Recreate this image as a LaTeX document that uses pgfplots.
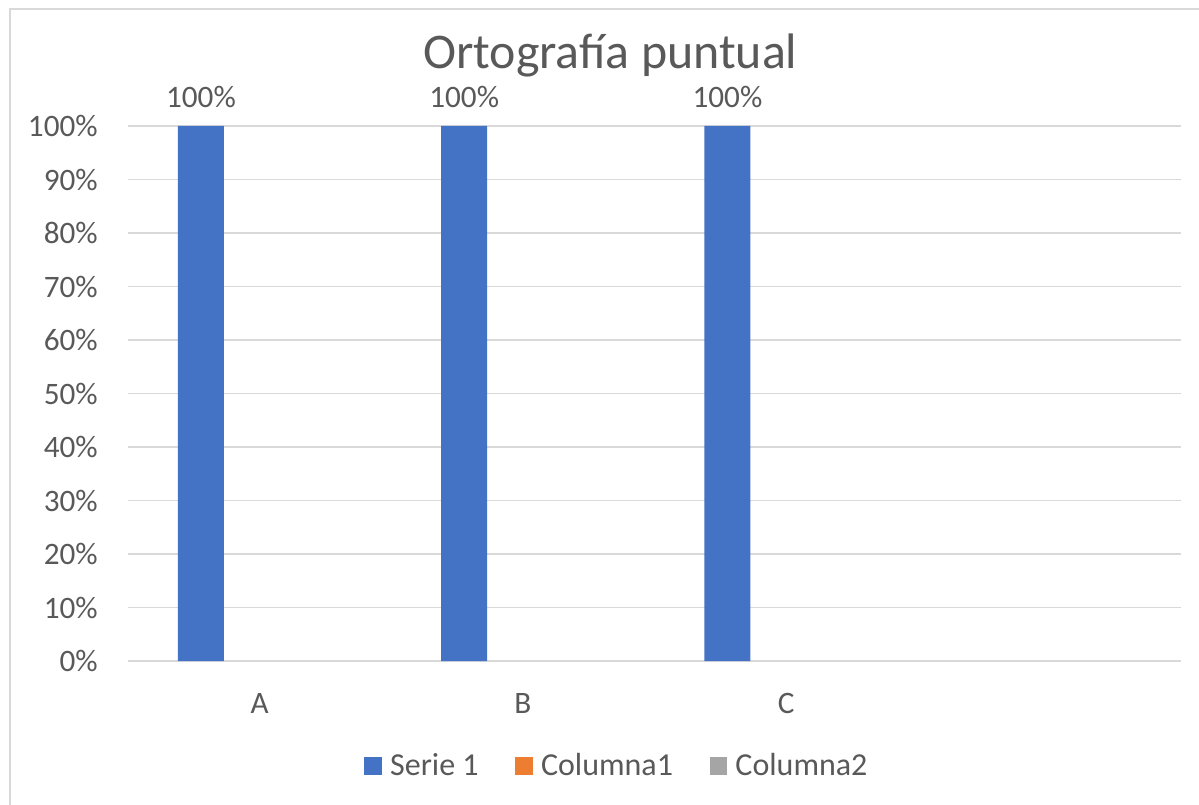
\documentclass[border=0pt]{standalone}
\usepackage{fontspec}
\setmainfont{Carlito}
\usepackage{pgfplots}
\pgfplotsset{compat=1.18}
\definecolor{s1}{HTML}{4472C4}
\definecolor{s2}{HTML}{ED7D31}
\definecolor{s3}{HTML}{A5A5A5}
\definecolor{txt}{HTML}{595959}
\definecolor{gridc}{HTML}{D9D9D9}
\begin{document}
\begin{tikzpicture}
\useasboundingbox (0,0) rectangle (899.25pt,603pt);
\fill[white] (0,0) rectangle (899.25pt,603pt);
\draw[gridc, line width=1.2pt] (7.5pt,-5pt) -- (7.5pt,596.25pt) -- (905pt,596.25pt);
\begin{axis}[
  at={(96pt,107.25pt)}, anchor=south west,
  scale only axis, width=789.75pt, height=401.25pt,
  xmin=-0.5, xmax=3.5, ymin=0, ymax=100,
  clip=false,
  axis line style={draw=none},
  ytick={0,10,...,100},
  xtick={0,1,2}, xticklabels={A,B,C},
  ymajorgrids, grid style={gridc, line width=1.1pt},
  major tick length=0pt, tick style={draw=none},
  /pgf/number format/assume math mode=true,
  ticklabel style={font=\fontsize{23.4}{28}\selectfont, text=txt},
  yticklabel={\pgfmathprintnumber{\tick}\%},
  yticklabel style={anchor=east, inner sep=0pt, xshift=-22.5pt},
  xticklabel style={anchor=base, inner sep=0pt, yshift=-39pt},
  title={Ortografía puntual},
  title style={at={(0.458,1)}, anchor=base, yshift=36.75pt, inner sep=0pt,
    font=\fontsize{37.4}{44}\selectfont, text=txt},
  legend columns=3,
  legend image code/.code={\fill[#1] (0pt,-6.6pt) rectangle (13.3pt,6.6pt);},
  legend style={at={(0.4634,-0.196)}, anchor=center, draw=none, fill=none,
    font=\fontsize{24}{28}\selectfont, text=txt,
    nodes={inner sep=0pt},
    /tikz/every odd column/.append style={column sep=6pt},
    /tikz/every even column/.append style={column sep=27.5pt}},
]
\addplot[ybar, bar width=0.175, bar shift=0pt, fill=s1, draw=none,
  nodes near coords={\pgfmathprintnumber{\pgfplotspointmeta}\%},
  every node near coord/.append style={anchor=base, yshift=14pt, inner sep=0pt,
    font=\fontsize{23.4}{28}\selectfont, text=txt}]
  coordinates {(-0.223,100) (0.777,100) (1.777,100)};
\addlegendentry{Serie 1}
% Columna1 and Columna2 are zero everywhere: nothing visible is drawn
\addplot[ybar, bar width=0.175, bar shift=0pt, fill=none, draw=none, forget plot]
  coordinates {(0,0) (1,0) (2,0)};
\addplot[ybar, bar width=0.175, bar shift=0pt, fill=none, draw=none, forget plot]
  coordinates {(0.223,0) (1.223,0) (2.223,0)};
\addlegendimage{fill=s2, draw=none}
\addlegendentry{Columna1}
\addlegendimage{fill=s3, draw=none}
\addlegendentry{Columna2}
\end{axis}
\end{tikzpicture}
\end{document}
